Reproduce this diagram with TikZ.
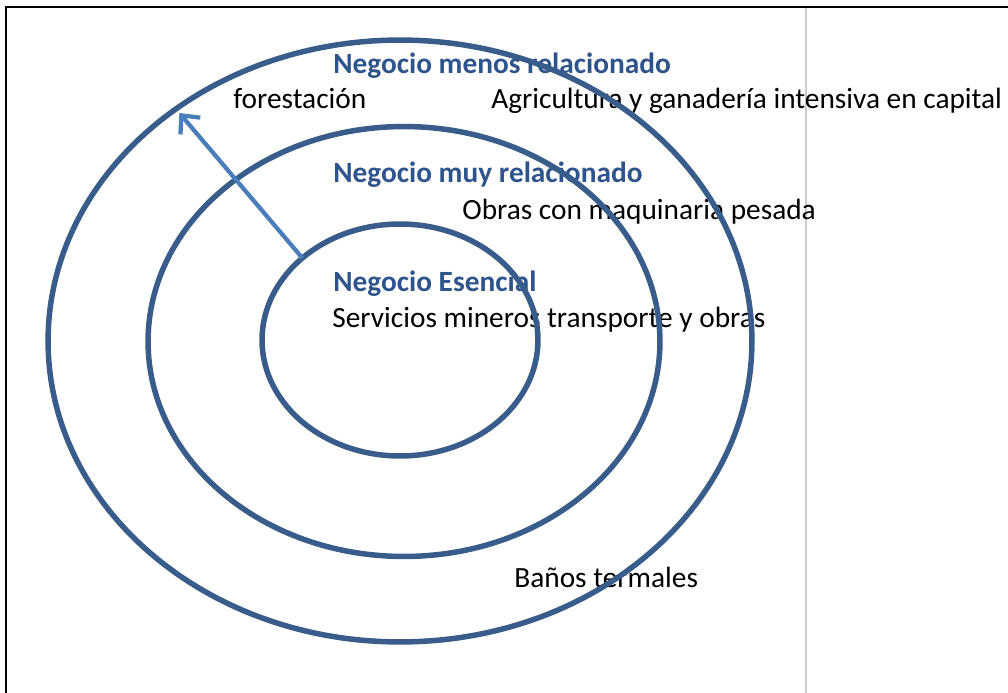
\documentclass[tikz,border=0pt]{standalone}
\usepackage{fontspec}
\setmainfont{Carlito}
\usepackage{xcolor}
\usepackage{tikz}
\usetikzlibrary{arrows.meta, shapes.geometric}

\definecolor{ringblue}{RGB}{56,93,138}
\definecolor{arrowblue}{RGB}{74,126,187}
\definecolor{titleblue}{RGB}{46,84,140}

\begin{document}
\begin{tikzpicture}[x=0.02cm, y=-0.02cm, ring/.style = {shape=ellipse, draw=ringblue, line width=0.11cm, inner sep=0pt, outer sep=0pt}, itemtext/.style = {anchor=base west, inner sep=0pt, font=\fontsize{16.7pt}{19pt}\selectfont}, titletext/.style = {itemtext, text=titleblue, font=\fontsize{16.7pt}{19pt}\selectfont\bfseries},]

\useasboundingbox (0,0) rectangle (1008,693);
\draw[line width=1.5pt] (6,693) -- (6,7) -- (1008,7);
\draw[gray!40, line width=0.6pt] (806,8) -- (806,693);

\node[titletext] (lessTitle) at (333,73) {Negocio menos relacionado};
\node[itemtext] (forestry) at (233,108) {forestación};
\node[itemtext] (farming) at (491,108) {Agricultura y ganadería intensiva en capital};
\node[titletext] (closeTitle) at (333,182) {Negocio muy relacionado};
\node[itemtext] (machinery) at (462,219) {Obras con maquinaria pesada};
\node[titletext] (coreTitle) at (333,291) {Negocio Esencial};
\node[itemtext] (services) at (332,327) {Servicios mineros transporte y obras};
\node[itemtext] (baths) at (514,587) {Baños termales};

\node[ring, minimum width=14.08cm, minimum height=12.04cm] (outerRing) at (400,341) {};
\node[ring, minimum width=10.24cm, minimum height=8.6cm] (middleRing) at (404,341.5) {};
\node[ring, minimum width=5.52cm, minimum height=4.64cm] (coreRing) at (400,340) {};

\draw[arrowblue, line width=0.085cm, -{Straight Barb[length=0.28cm, width=0.52cm]}, shorten >=3pt] (coreRing.140.6) -- (outerRing.134.9);
\end{tikzpicture}
\end{document}
